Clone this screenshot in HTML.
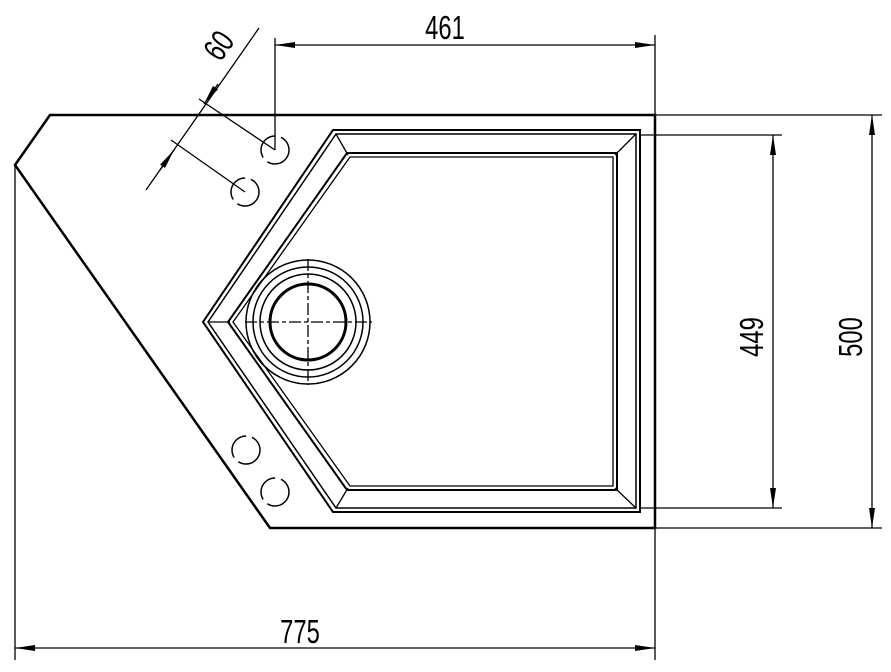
<!DOCTYPE html>
<html><head><style>body{margin:0;background:#fff}svg{display:block}text{font-family:"Liberation Sans",sans-serif;fill:#000}</style></head><body>
<svg width="891" height="672" viewBox="0 0 891 672" xmlns="http://www.w3.org/2000/svg">
<defs><marker id="a" viewBox="0 0 20 6" refX="20" refY="3" markerWidth="20" markerHeight="6" markerUnits="userSpaceOnUse" orient="auto-start-reverse"><path d="M0,0 L20,3 L0,6 Z" fill="#000"/></marker></defs>
<g fill="none" stroke="#000">
<path d="M50,115 L655,115 L655,528 L270,528 L15,165 Z" stroke-width="2.5"/>
<line x1="15" y1="165" x2="15" y2="660" stroke-width="1.3"/>
<line x1="655" y1="35" x2="655" y2="660" stroke-width="1.3"/>
<line x1="15" y1="648" x2="655" y2="648" stroke-width="1.3" marker-start="url(#a)" marker-end="url(#a)"/>
<line x1="275" y1="38" x2="275" y2="150" stroke-width="1.3"/>
<line x1="275" y1="45" x2="655" y2="45" stroke-width="1.3" marker-start="url(#a)" marker-end="url(#a)"/>
<line x1="655" y1="115" x2="882" y2="115" stroke-width="1.3"/>
<line x1="655" y1="528" x2="882" y2="528" stroke-width="1.3"/>
<line x1="872" y1="115" x2="872" y2="528" stroke-width="1.3" marker-start="url(#a)" marker-end="url(#a)"/>
<line x1="640" y1="135" x2="782" y2="135" stroke-width="1.3"/>
<line x1="640" y1="508" x2="782" y2="508" stroke-width="1.3"/>
<line x1="773" y1="135" x2="773" y2="508" stroke-width="1.3" marker-start="url(#a)" marker-end="url(#a)"/>
<line x1="259" y1="28" x2="146" y2="190" stroke-width="1.3"/>
<line x1="218" y1="84" x2="204" y2="104" stroke-width="1.3" marker-end="url(#a)"/>
<line x1="275" y1="150" x2="199" y2="99" stroke-width="1.3"/>
<line x1="245" y1="192" x2="171" y2="140" stroke-width="1.3"/>
<line x1="160" y1="170" x2="174" y2="150" stroke-width="1.3" marker-end="url(#a)"/>
<path d="M333,130 L640,130 L640,512 L333,512 L203,322 Z" stroke-width="2"/>
<path d="M336,134 L636,134 L636,508 L336,508 L208,322 Z" stroke-width="1.5"/>
<path d="M347,153 L617,153 L617,490 L347,490 L228,322 Z" stroke-width="2"/>
<path d="M350,157 L613,157 L613,486 L350,486 L233,322 Z" stroke-width="1.3"/>
<line x1="636" y1="134" x2="615" y2="155" stroke-width="1.3"/>
<line x1="636" y1="508" x2="615" y2="488" stroke-width="1.3"/>
<line x1="336" y1="134" x2="348" y2="155" stroke-width="1.3"/>
<line x1="336" y1="508" x2="348" y2="488" stroke-width="1.3"/>
<line x1="208" y1="322" x2="230" y2="322" stroke-width="1.3"/>
<circle cx="308" cy="322" r="62" stroke-width="1.5"/>
<circle cx="308" cy="322" r="55" stroke-width="1.5"/>
<circle cx="308" cy="322" r="48" stroke-width="1.5"/>
<circle cx="308" cy="322" r="38" stroke-width="3"/>
<line x1="245" y1="322" x2="372" y2="322" stroke-width="1.3" stroke-dasharray="12,3,4,3"/>
<line x1="308" y1="259" x2="308" y2="385" stroke-width="1.3" stroke-dasharray="12,3,4,3"/>
<g stroke-width="1.5" stroke-dasharray="30,6">
<circle cx="275" cy="150" r="14"/><circle cx="245" cy="192" r="14"/>
<circle cx="246" cy="450" r="14"/><circle cx="275" cy="492" r="14"/>
</g>
</g>
<g font-size="33">
<text transform="translate(300,643) scale(0.72,1)" text-anchor="middle">775</text>
<text transform="translate(445,39) scale(0.72,1)" text-anchor="middle">461</text>
<text transform="translate(763,337) rotate(-90) scale(0.72,1)" text-anchor="middle">449</text>
<text transform="translate(862,337) rotate(-90) scale(0.72,1)" text-anchor="middle">500</text>
<text transform="translate(228,52) rotate(-55) scale(0.72,1)" text-anchor="middle">60</text>
</g>
</svg>
</body></html>
